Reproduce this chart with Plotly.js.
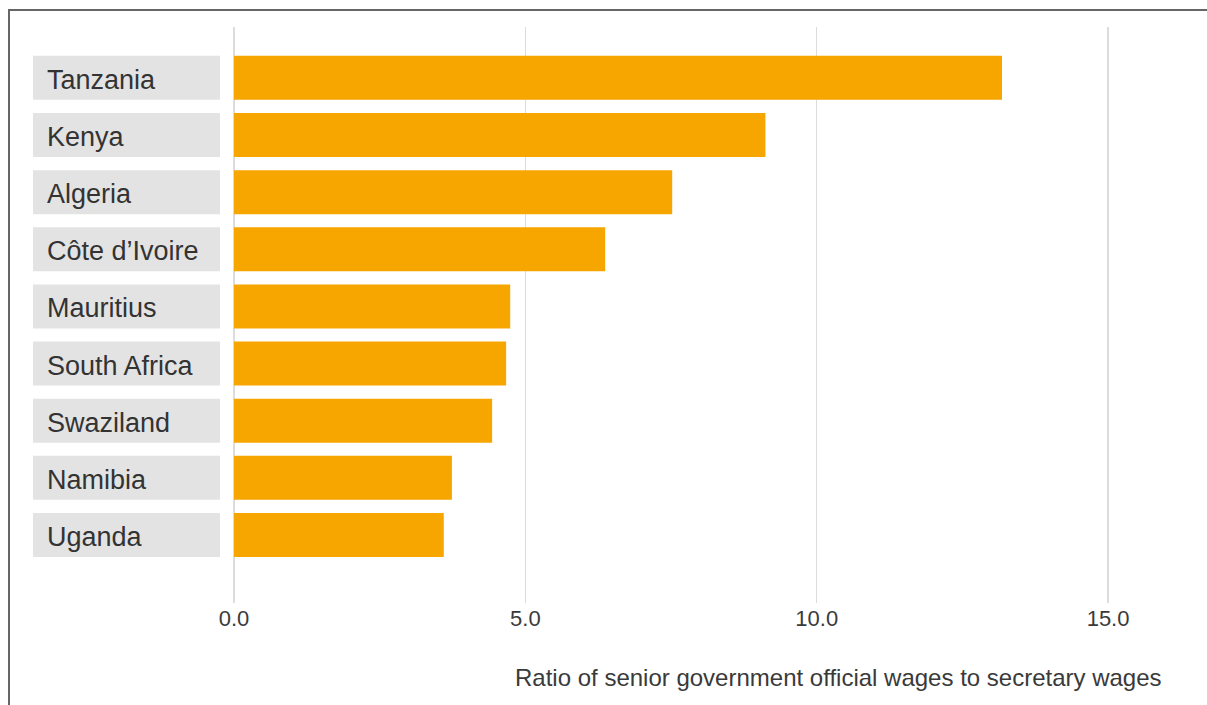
<!DOCTYPE html>
<html>
<head>
<meta charset="utf-8">
<script src="https://cdn.plot.ly/plotly-3.0.1.min.js"></script>
<style>html,body{margin:0;padding:0;background:#fff;}#chart{width:1207px;height:705px;}</style>
</head>
<body>
<div id="chart"></div>
<script>
const countries = ["Tanzania", "Kenya", "Algeria", "Côte d’Ivoire", "Mauritius", "South Africa", "Swaziland", "Namibia", "Uganda"];
const ratios = [13.18, 9.12, 7.52, 6.37, 4.74, 4.67, 4.43, 3.74, 3.60];
const tickValues = [0, 5, 10, 15];
const tickLabels = ["0.0", "5.0", "10.0", "15.0"];
const axisTitle = "Ratio of senior government official wages to secretary wages";

const W = 1207, H = 705;
const mL = 234, mR = 0, mT = 27, mB = 102;
const plotW = W - mL - mR, plotH = H - mT - mB;
const px2x = p => (p - mL) / plotW;
const py2y = p => (H - mB - p) / plotH;

const barW = 0.77;
const shapes = [];
countries.forEach((c, i) => {
  shapes.push({type: 'rect', xref: 'paper', yref: 'y', x0: px2x(33), x1: px2x(220),
    y0: i - barW / 2, y1: i + barW / 2, fillcolor: '#e3e3e3', line: {width: 0}, layer: 'below'});
});
shapes.push({type: 'line', xref: 'paper', yref: 'paper', x0: px2x(9), x1: px2x(9), y0: py2y(10), y1: py2y(720),
  line: {color: '#666', width: 2}});
shapes.push({type: 'line', xref: 'paper', yref: 'paper', x0: px2x(8), x1: px2x(1220), y0: py2y(10), y1: py2y(10),
  line: {color: '#666', width: 2}});

const annotations = countries.map((c, i) => ({
  text: c, xref: 'paper', yref: 'y', x: px2x(45), y: i, xanchor: 'left', yanchor: 'middle',
  showarrow: false, yshift: -2, font: {family: 'Liberation Sans, Arial, sans-serif', size: 27, color: '#333'}
}));
annotations.push({text: axisTitle, xref: 'paper', yref: 'paper', x: px2x(1164), y: py2y(677),
  xanchor: 'right', yanchor: 'middle', showarrow: false,
  font: {family: 'Liberation Sans, Arial, sans-serif', size: 24, color: '#3a3a3a'}});

const trace = {
  type: 'bar', orientation: 'h', y: countries, x: ratios, width: barW,
  marker: {color: '#f7a600', line: {width: 0}}, hoverinfo: 'x+y'
};

const layout = {
  width: W, height: H, margin: {l: mL, r: mR, t: mT, b: mB, pad: 0},
  paper_bgcolor: '#fff', plot_bgcolor: '#fff', showlegend: false,
  xaxis: {range: [0, plotW / 58.27], tickvals: tickValues, ticktext: tickLabels, showgrid: true,
    gridcolor: '#dcdcdc', gridwidth: 1.5, zeroline: true, zerolinecolor: '#dcdcdc', zerolinewidth: 1.5,
    showline: false, ticks: '', ticklabelstandoff: 0,
    tickfont: {family: 'Liberation Sans, Arial, sans-serif', size: 22, color: '#3a3a3a'}},
  yaxis: {type: 'category', range: [9.19, -0.89], showgrid: false, zeroline: false, showticklabels: false, ticks: ''},
  shapes: shapes, annotations: annotations, bargap: 0.23
};
Plotly.newPlot('chart', [trace], layout, {displayModeBar: false, staticPlot: true});
</script>
</body>
</html>
